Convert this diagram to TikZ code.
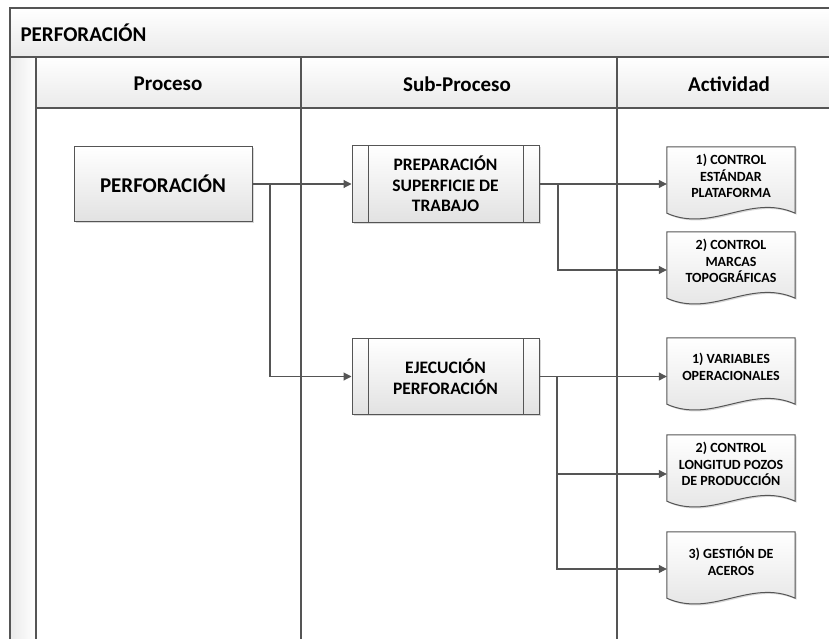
\documentclass[tikz,border=0pt]{standalone}
\usepackage{fontspec}
\setmainfont{Carlito}
\usetikzlibrary{arrows.meta,backgrounds,shadows}
\definecolor{linegray}{HTML}{555555}
\definecolor{boxgray}{HTML}{E2E2E2}
\definecolor{headgray}{HTML}{EAEAEA}
\tikzset{
  lane/.style={draw=linegray, line width=1.3pt},
  flow/.style={draw=linegray, line width=1.1pt, -{Triangle[length=8pt,width=8pt]}},
  headtext/.style={font=\bfseries\fontsize{21}{25}\selectfont},
  procbox/.style={draw=linegray, line width=1pt, top color=white, bottom color=boxgray,
    minimum width=178pt, minimum height=74pt, font=\bfseries\fontsize{21}{25}\selectfont,
    drop shadow={shadow xshift=1.5pt, shadow yshift=-1.5pt, fill=black!30}},
  subbox/.style={procbox, minimum width=187pt, minimum height=76pt, align=center,
    font=\bfseries\fontsize{17.5}{20.5}\selectfont,
    path picture={\draw[linegray, line width=1pt]
      ([xshift=16pt]path picture bounding box.north west) -- ([xshift=16pt]path picture bounding box.south west)
      ([xshift=-16pt]path picture bounding box.north east) -- ([xshift=-16pt]path picture bounding box.south east);}},
  doctext/.style={minimum width=128pt, minimum height=58pt, inner sep=0pt, align=center,
    font=\bfseries\fontsize{14}{16.5}\selectfont},
  docshape/.style={draw=linegray, line width=1pt, top color=white, bottom color=boxgray,
    drop shadow={shadow xshift=1.5pt, shadow yshift=-1.5pt, fill=black!30}}
}
\begin{document}
\begin{tikzpicture}[x=1pt, y=-1pt]
  \useasboundingbox (0,0) rectangle (829,639);
  % lane frame
  \fill[top color=white, bottom color=headgray] (10,8) rectangle (829,57);
  \fill[top color=white, bottom color=headgray] (36,57) rectangle (829,108);
  \fill[left color=headgray, right color=white] (10,57) rectangle (36,639);
  \draw[lane] (10,639) -- (10,8) -- (829,8);
  \draw[lane] (10,57) -- (829,57);
  \draw[lane] (36,108) -- (829,108);
  \foreach \x in {36,301,617} \draw[lane] (\x,57) -- (\x,639);

  \node[headtext, anchor=west] (title) at (17,33) {PERFORACIÓN};
  \node[headtext] (hproc) at (168,84) {Proceso};
  \node[headtext] (hsub) at (457,84) {Sub-Proceso};
  \node[headtext] (hact) at (729,84) {Actividad};

  \node[procbox] (proc) at (163,184) {PERFORACIÓN};
  \node[subbox] (prep) at (445.5,184) {PREPARACIÓN\\SUPERFICIE DE\\TRABAJO};
  \node[subbox] (ejec) at (445.5,376.5) {EJECUCIÓN\\PERFORACIÓN};

  \node[doctext] (act1) at (731,176) {1) CONTROL\\ESTÁNDAR\\PLATAFORMA};
  \node[doctext] (act2) at (731,261) {2) CONTROL\\MARCAS\\TOPOGRÁFICAS};
  \node[doctext] (act3) at (731,367) {1) VARIABLES\\OPERACIONALES};
  \node[doctext] (act4) at (731,464) {2) CONTROL\\LONGITUD POZOS\\DE PRODUCCIÓN};
  \node[doctext] (act5) at (731,561) {3) GESTIÓN DE\\ACEROS};

  \begin{scope}[on background layer]
    \fill[white] (0,0) rectangle (829,639);
    \foreach \d in {act1,act2,act3,act4,act5}
      \path[docshape] (\d.north west) -- (\d.north east) -- ([yshift=-8pt]\d.south east)
        .. controls +(-45pt,20pt) and +(45pt,-20pt) .. ([yshift=-8pt]\d.south west) -- cycle;
  \end{scope}

  \coordinate (splitA) at (270,184);
  \coordinate (splitB) at (558,184);
  \coordinate (splitC) at (557,376.5);
  \draw[flow] (proc.east) -- (prep.west);
  \draw[flow] (splitA) |- (ejec.west);
  \draw[flow] (prep.east) -- (prep.east -| act1.west);
  \draw[flow] (splitB) |- ([yshift=-9pt]act2.west);
  \draw[flow] (ejec.east) -- (ejec.east -| act3.west);
  \draw[flow] (splitC) |- ([yshift=-10pt]act4.west);
  \draw[flow] (splitC) |- ([yshift=-8pt]act5.west);
\end{tikzpicture}
\end{document}
